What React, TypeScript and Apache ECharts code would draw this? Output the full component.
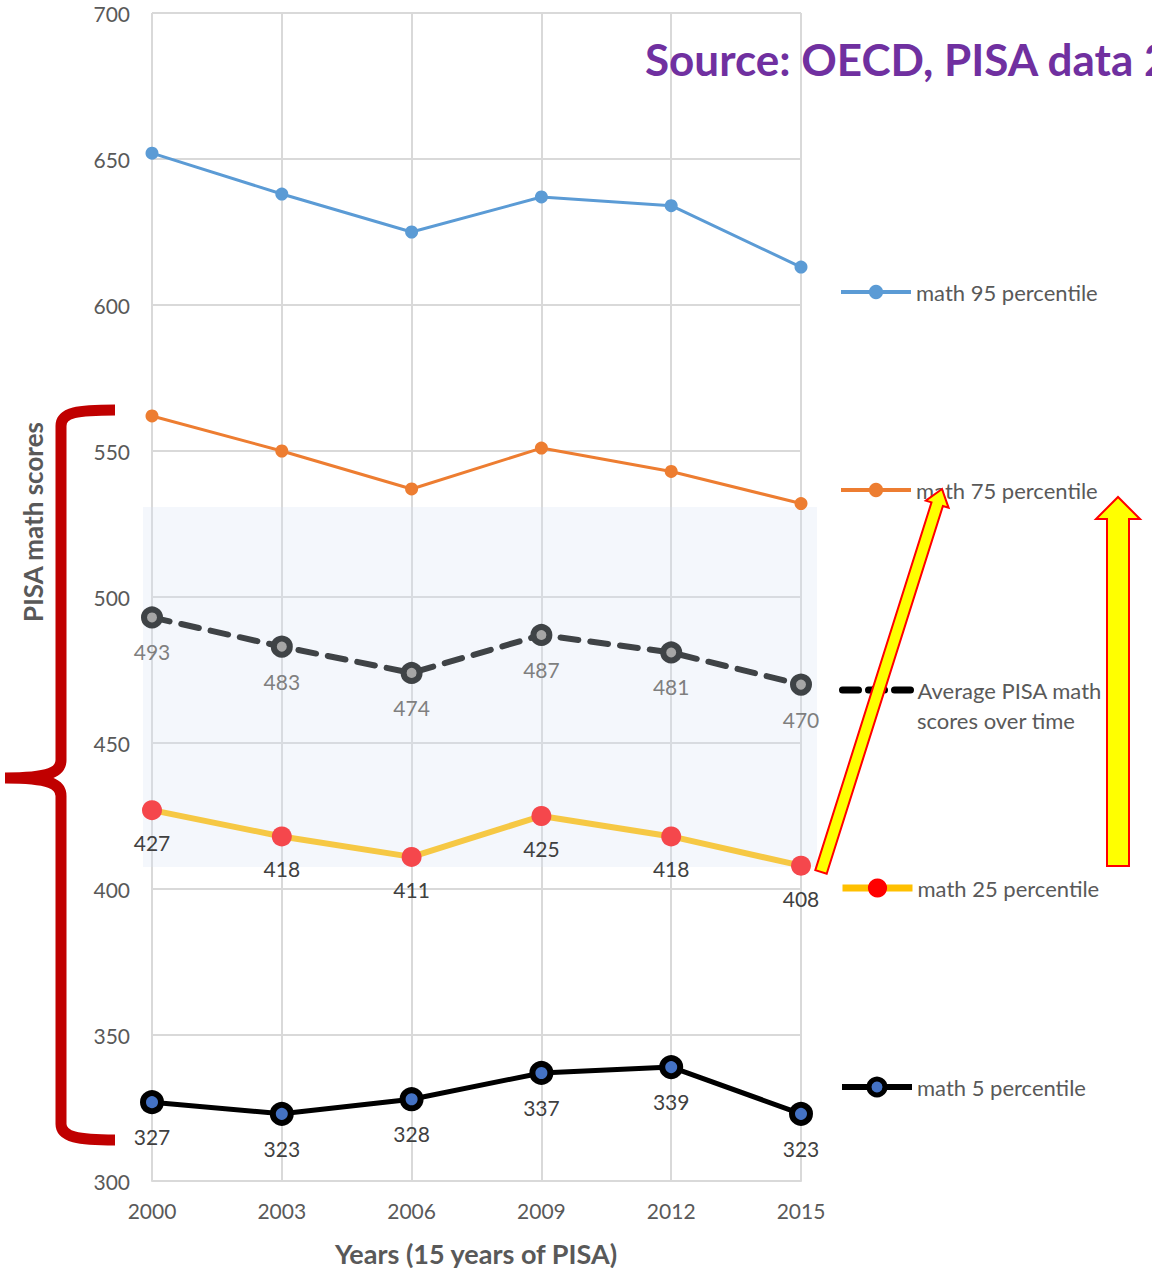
import React, { useEffect, useRef } from "react";
import * as echarts from "echarts";

const years = ["2000", "2003", "2006", "2009", "2012", "2015"];
const p95 = [652, 638, 625, 637, 634, 613];
const p75 = [562, 550, 537, 551, 543, 532];
const avg = [493, 483, 474, 487, 481, 470];
const p25 = [427, 418, 411, 425, 418, 408];
const p5 = [327, 323, 328, 337, 339, 323];

const N95 = "math 95 percentile";
const N75 = "math 75 percentile";
const NAVG = "Average PISA math scores over time";
const N25 = "math 25 percentile";
const N5 = "math 5 percentile";

const FONT = "Lato";
const TXT = "#595959";

const bracePath =
  "M115,410 C78,410 61,412 61,426 L61,760 C61,772 50,778 5,778 C50,778 61,784 61,796 L61,1124 C61,1137 78,1140 115,1140";

let registered = false;
function registerShapes() {
  if (registered) return;
  registered = true;
  echarts.graphic.registerShape("brace", echarts.graphic.extendPath(bracePath, {}) as any);
}

function legendAt(
  name: string,
  top: number,
  itemHeight: number,
  lineStyle: any,
  itemStyle: any,
  fmt?: string
) {
  return {
    data: [name],
    left: 839,
    top,
    padding: 0,
    itemWidth: 70,
    itemHeight,
    itemGap: 0,
    lineStyle,
    itemStyle,
    formatter: fmt ? () => fmt : undefined,
    textStyle: { fontFamily: FONT, fontSize: 22, color: TXT },
  };
}

export default function App() {
  const ref = useRef<HTMLDivElement>(null);
  useEffect(() => {
    registerShapes();
    const chart = echarts.init(ref.current!, null, { renderer: "svg" });
    const option: any = {
      animation: false,
      backgroundColor: "#ffffff",
      grid: { left: 152, right: 351, top: 13, bottom: 87 },
      xAxis: {
        type: "category",
        data: years,
        boundaryGap: false,
        axisLine: { show: true, lineStyle: { color: "#d9d9d9", width: 2 } },
        axisTick: { show: false },
        splitLine: { show: true, lineStyle: { color: "#d9d9d9", width: 2 } },
        axisLabel: { fontFamily: FONT, fontSize: 21, color: TXT, margin: 19 },
      },
      yAxis: {
        type: "value",
        min: 300,
        max: 700,
        interval: 50,
        axisLine: { show: false },
        axisTick: { show: false },
        splitLine: { show: true, lineStyle: { color: "#d9d9d9", width: 2 } },
        axisLabel: { fontFamily: FONT, fontSize: 21, color: TXT, margin: 22 },
      },
      legend: [
        legendAt(N95, 281, 18, { width: 4, color: "#5b9bd5" }, { color: "#5b9bd5" }),
        legendAt(N75, 479, 18, { width: 4, color: "#ed7d31" }, { color: "#ed7d31" }),
        legendAt(
          NAVG,
          679,
          16,
          { width: 7, color: "#000000", type: [16, 10], cap: "round" },
          { color: "#000000", borderWidth: 0 },
          "Average PISA math"
        ),
        legendAt(N25, 877, 24, { width: 7, color: "#ffc000" }, { color: "#ff0000" }),
        legendAt(
          N5,
          1076,
          20,
          { width: 6, color: "#000000" },
          { color: "#4472c4", borderColor: "#000000", borderWidth: 5 }
        ),
      ],
      graphic: [
        {
          type: "rect",
          z: 1,
          silent: true,
          shape: { x: 143, y: 507, width: 674, height: 360 },
          style: { fill: "rgba(214,228,243,0.28)" },
        },
        {
          type: "text",
          z: 10,
          left: 645,
          top: 37,
          style: {
            text: "Source: OECD, PISA data 2015",
            fontFamily: FONT,
            fontWeight: "bold",
            fontSize: 44,
            fill: "#7030a0",
          },
        },
        {
          type: "text",
          z: 10,
          x: 33,
          y: 522,
          rotation: Math.PI / 2,
          style: {
            text: "PISA math scores",
            fontFamily: FONT,
            fontWeight: "bold",
            fontSize: 26,
            fill: TXT,
            align: "center",
            verticalAlign: "middle",
          },
        },
        {
          type: "text",
          z: 10,
          x: 476,
          y: 1253,
          style: {
            text: "Years (15 years of PISA)",
            fontFamily: FONT,
            fontWeight: "bold",
            fontSize: 27,
            fill: TXT,
            align: "center",
            verticalAlign: "middle",
          },
        },
        {
          type: "text",
          z: 10,
          x: 917,
          y: 720,
          style: {
            text: "scores over time",
            fontFamily: FONT,
            fontSize: 22,
            fill: TXT,
            align: "left",
            verticalAlign: "middle",
          },
        },
        {
          type: "brace",
          z: 20,
          x: 0,
          y: 0,
          style: { fill: "none", stroke: "#c00000", lineWidth: 11 },
        },
        {
          type: "polygon",
          z: 30,
          shape: {
            points: [
              [826.7, 873.8],
              [942.9, 506.0],
              [948.6, 507.8],
              [942, 489],
              [925.8, 500.6],
              [931.5, 502.4],
              [815.3, 870.2],
            ],
          },
          style: { fill: "#ffff00", stroke: "#ff0000", lineWidth: 2 },
        },
        {
          type: "polygon",
          z: 30,
          shape: {
            points: [
              [1107, 866],
              [1107, 519],
              [1096, 519],
              [1118, 497],
              [1140, 519],
              [1129, 519],
              [1129, 866],
            ],
          },
          style: { fill: "#ffff00", stroke: "#ff0000", lineWidth: 2 },
        },
      ],
      series: [
        {
          name: N95,
          type: "line",
          data: p95,
          symbol: "circle",
          symbolSize: 13,
          color: "#5b9bd5",
          lineStyle: { width: 3, color: "#5b9bd5" },
          itemStyle: { color: "#5b9bd5" },
        },
        {
          name: N75,
          type: "line",
          data: p75,
          symbol: "circle",
          symbolSize: 13,
          color: "#ed7d31",
          lineStyle: { width: 3, color: "#ed7d31" },
          itemStyle: { color: "#ed7d31" },
        },
        {
          name: NAVG,
          type: "line",
          data: avg,
          symbol: "circle",
          symbolSize: 16,
          color: "#404040",
          lineStyle: { width: 6, color: "#3f4346", type: [18, 12], cap: "round" },
          itemStyle: { color: "#a6a6a6", borderColor: "#3f4346", borderWidth: 6 },
          label: {
            show: true,
            position: "bottom",
            distance: 13,
            fontFamily: FONT,
            fontSize: 21,
            color: "#7f7f7f",
          },
        },
        {
          name: N25,
          type: "line",
          data: p25,
          symbol: "circle",
          symbolSize: 20,
          color: "#f7c843",
          lineStyle: { width: 6, color: "#f6c844" },
          itemStyle: { color: "#f5474c" },
          label: {
            show: true,
            position: "bottom",
            distance: 12,
            fontFamily: FONT,
            fontSize: 21,
            color: "#404040",
          },
        },
        {
          name: N5,
          type: "line",
          data: p5,
          symbol: "circle",
          symbolSize: 18,
          color: "#000000",
          lineStyle: { width: 5, color: "#000000" },
          itemStyle: { color: "#4472c4", borderColor: "#000000", borderWidth: 6 },
          label: {
            show: true,
            position: "bottom",
            distance: 12,
            fontFamily: FONT,
            fontSize: 21,
            color: "#404040",
          },
        },
      ],
    };
    chart.setOption(option);
    return () => chart.dispose();
  }, []);
  return (
    <div
      ref={ref}
      style={{ position: "fixed", left: 0, top: 0, width: 1152, height: 1268 }}
    />
  );
}
